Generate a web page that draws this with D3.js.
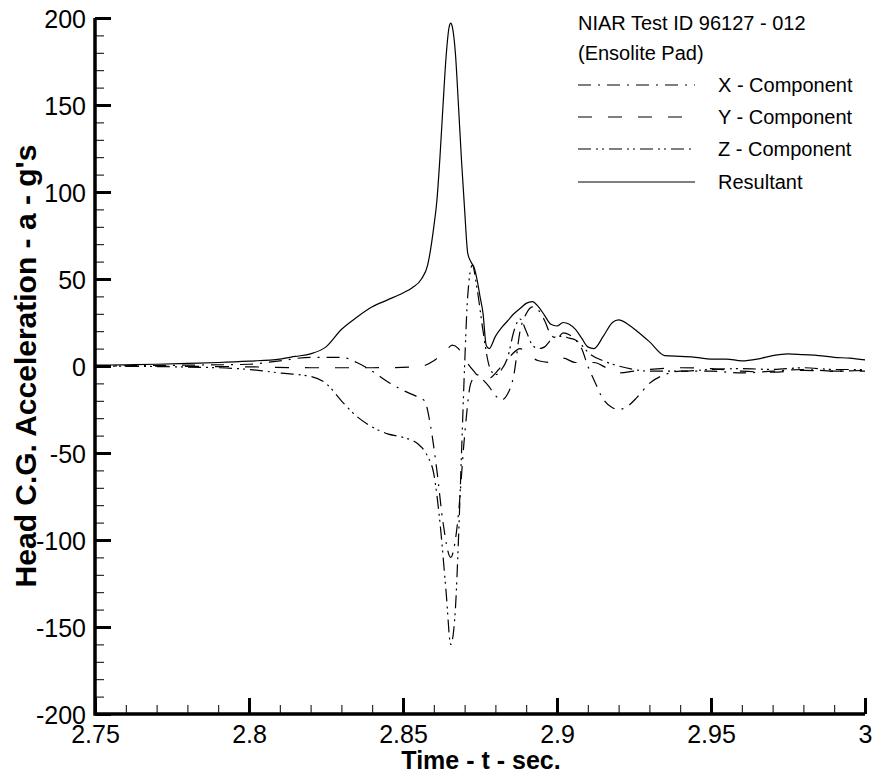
<!DOCTYPE html>
<html>
<head>
<meta charset="utf-8">
<script src="https://cdn.jsdelivr.net/npm/d3@7"></script>
<style>
    body { margin: 0; background: #fff; }
    svg text { font-family: Arial, "Liberation Sans", sans-serif; fill: #000; }
</style>
</head>
<body>
<div id="chart"></div>
<script>
/** data: [time (s), acceleration (g)] */
var xComponent = [
    [2.75, 0], [2.78, 0.5], [2.8, 1], [2.81, 3], [2.82, 5], [2.83, 5], [2.835, 2],
    [2.84, -3], [2.845, -9], [2.85, -14], [2.855, -18], [2.857, -20], [2.859, -35],
    [2.861, -60], [2.863, -90], [2.8655, -110], [2.867, -100], [2.868, -85],
    [2.87, -40], [2.872, -10], [2.874, -5], [2.876, -8], [2.878, -12], [2.88, -17],
    [2.882, -19.5], [2.884, -16], [2.886, -5], [2.888, 20], [2.89, 30], [2.892, 34],
    [2.894, 32], [2.896, 26], [2.898, 18], [2.9, 16], [2.902, 19], [2.904, 18],
    [2.906, 15], [2.908, 10], [2.91, 0], [2.912, -8], [2.915, -19], [2.918, -24],
    [2.92, -25], [2.923, -23], [2.926, -18], [2.93, -10], [2.935, -5], [2.94, -3],
    [2.95, -3], [2.96, -4], [2.97, -3], [2.98, -2], [2.99, -3], [3.0, -2.5]
];
var yComponent = [
    [2.75, 0], [2.8, -0.5], [2.82, -1], [2.84, -1], [2.855, -0.5], [2.86, 3],
    [2.864, 9], [2.866, 12], [2.868, 10], [2.87, 4], [2.873, -3], [2.876, -8],
    [2.879, -6], [2.882, 0], [2.885, 6], [2.888, 10], [2.891, 6], [2.894, 3],
    [2.898, 2], [2.902, 4.5], [2.906, 2], [2.912, 2], [2.916, -1], [2.92, -4],
    [2.925, -3], [2.93, -2], [2.94, -1], [2.95, -1.5], [2.96, -3], [2.97, -3.5],
    [2.98, -2.5], [2.99, -3], [3.0, -3]
];
var zComponent = [
    [2.75, 0], [2.79, -1], [2.8, -2], [2.81, -4], [2.82, -6], [2.825, -10],
    [2.83, -20], [2.835, -29], [2.84, -35], [2.845, -39], [2.85, -41], [2.855, -45],
    [2.858, -52], [2.86, -62], [2.862, -90], [2.864, -130], [2.8655, -160],
    [2.867, -140], [2.868, -100], [2.869, -50], [2.87, 0], [2.871, 40], [2.8725, 58],
    [2.874, 45], [2.876, 20], [2.878, 0], [2.88, -5], [2.882, -2], [2.884, 5],
    [2.886, 20], [2.888, 27], [2.89, 20], [2.892, 12], [2.894, 10], [2.896, 11],
    [2.898, 15], [2.9, 17], [2.902, 17], [2.904, 16], [2.906, 15], [2.908, 12],
    [2.91, 8], [2.915, 3], [2.92, 0], [2.925, -2], [2.93, -3], [2.94, -3],
    [2.95, -2], [2.96, -1.5], [2.97, -2], [2.98, -1], [2.99, -2], [3.0, -2]
];
var resultant = [
    [2.75, 0.5], [2.76, 0.7], [2.77, 1], [2.78, 1.5], [2.79, 2], [2.8, 2.8],
    [2.81, 4], [2.815, 5.5], [2.82, 7], [2.825, 11], [2.83, 21], [2.835, 28],
    [2.84, 34], [2.845, 38], [2.85, 42], [2.853, 45], [2.856, 50], [2.858, 58],
    [2.86, 80], [2.861, 95], [2.862, 120], [2.863, 150], [2.864, 178], [2.865, 195],
    [2.8655, 197], [2.866, 195], [2.867, 180], [2.868, 150], [2.869, 118], [2.87, 90],
    [2.871, 65], [2.872, 60], [2.873, 57], [2.874, 50], [2.875, 40], [2.876, 30],
    [2.877, 12], [2.878, 10], [2.88, 17], [2.882, 22], [2.884, 26], [2.886, 30],
    [2.888, 33], [2.89, 36], [2.892, 37], [2.894, 34], [2.896, 29], [2.898, 24],
    [2.9, 23], [2.902, 25], [2.904, 24], [2.906, 21], [2.908, 16], [2.91, 11],
    [2.912, 10], [2.915, 17], [2.918, 25], [2.92, 26.5], [2.923, 24], [2.926, 20],
    [2.93, 14], [2.935, 6], [2.94, 5.5], [2.945, 5], [2.95, 4], [2.955, 4],
    [2.96, 3], [2.965, 4], [2.97, 6], [2.975, 7], [2.98, 6.5], [2.985, 6],
    [2.99, 5], [2.995, 4.5], [3.0, 3.5]
];

var seriesNames = ["X - Component", "Y - Component", "Z - Component", "Resultant"];
var xTicks = [2.75, 2.8, 2.85, 2.9, 2.95, 3];
var yTicks = [-200, -150, -100, -50, 0, 50, 100, 150, 200];
var titleLines = ["NIAR Test ID 96127 - 012", "(Ensolite Pad)"];

var W = 875, H = 776;
var plotL = 95, plotR = 865, plotT = 18, plotB = 714;

var svg = d3.select("#chart").append("svg")
    .attr("width", W)
    .attr("height", H);

var x = d3.scaleLinear().domain([2.75, 3]).range([plotL, plotR]);
var y = d3.scaleLinear().domain([-200, 200]).range([plotB, plotT]);

// dash styles, same order as seriesNames
var dashes = ["13,7,2,7", "14,16", "13,5,2,4,2,5", null];
var allSeries = [xComponent, yComponent, zComponent, resultant];

var line = d3.line()
    .x(function (d) { return x(d[0]); })
    .y(function (d) { return y(d[1]); })
    .curve(d3.curveMonotoneX);

var plot = svg.append("g");
allSeries.forEach(function (s, i) {
    plot.append("path")
        .datum(s)
        .attr("d", line)
        .attr("fill", "none")
        .attr("stroke", "#000")
        .attr("stroke-width", 1.2)
        .attr("stroke-dasharray", dashes[i]);
});

/** axes: thick lines, ticks pointing inward */
var xMinorVals = d3.range(0, 26).map(function (i) { return 2.75 + i * 0.01; })
    .filter(function (v, i) { return i % 5 !== 0; });
var yMinorVals = d3.range(-200, 201, 10).filter(function (v) { return v % 50 !== 0; });
var plainNum = function (d) { return String(+d.toFixed(2)); };   // keep ASCII hyphen

var gx = svg.append("g").attr("transform", "translate(0," + plotB + ")");
var gy = svg.append("g").attr("transform", "translate(" + plotL + ",0)");

gx.append("g").call(d3.axisBottom(x).tickValues(xMinorVals).tickSize(-9).tickFormat(""));
gy.append("g").call(d3.axisLeft(y).tickValues(yMinorVals).tickSize(-9).tickFormat(""));
gx.append("g").attr("class", "major")
    .call(d3.axisBottom(x).tickValues(xTicks).tickSize(-16).tickFormat(plainNum));
gy.append("g").attr("class", "major")
    .call(d3.axisLeft(y).tickValues(yTicks).tickSize(-16).tickFormat(plainNum));

svg.selectAll(".domain").remove();
svg.selectAll(".tick line").attr("stroke", "#000").attr("stroke-width", 1);
svg.selectAll(".major .tick line").attr("stroke-width", 3);
svg.selectAll(".tick text")
    .attr("font-size", 25)
    .attr("font-family", "Arial, 'Liberation Sans', sans-serif")
    .attr("fill", "#000");
gx.selectAll(".tick text").attr("y", 29).attr("dy", null);
gy.selectAll(".tick text").attr("x", -9).attr("dy", "0.36em");

svg.append("path")
    .attr("d", "M" + plotL + "," + plotT + "V" + plotB + "H" + plotR)
    .attr("fill", "none")
    .attr("stroke", "#000")
    .attr("stroke-width", 3.5);

/** axis titles */
svg.append("text")
    .attr("x", 481)
    .attr("y", 769)
    .attr("text-anchor", "middle")
    .attr("font-size", 25)
    .attr("font-weight", "bold")
    .text("Time - t - sec.");
svg.append("text")
    .attr("transform", "translate(36,366) rotate(-90)")
    .attr("text-anchor", "middle")
    .attr("font-size", 30)
    .attr("font-weight", "bold")
    .text("Head C.G. Acceleration - a - g's");

/** legend */
var legend = svg.append("g");
titleLines.forEach(function (t, i) {
    legend.append("text")
        .attr("x", 578)
        .attr("y", 30 + i * 30)
        .attr("font-size", 20)
        .text(t);
});
var legendY = [85, 117, 149, 182];
seriesNames.forEach(function (name, i) {
    legend.append("line")
        .attr("x1", 578).attr("x2", 695)
        .attr("y1", legendY[i]).attr("y2", legendY[i])
        .attr("stroke", "#000")
        .attr("stroke-width", 1.2)
        .attr("stroke-dasharray", dashes[i]);
    legend.append("text")
        .attr("x", 718)
        .attr("y", legendY[i] + 7)
        .attr("font-size", 20)
        .text(name);
});
</script>
</body>
</html>
